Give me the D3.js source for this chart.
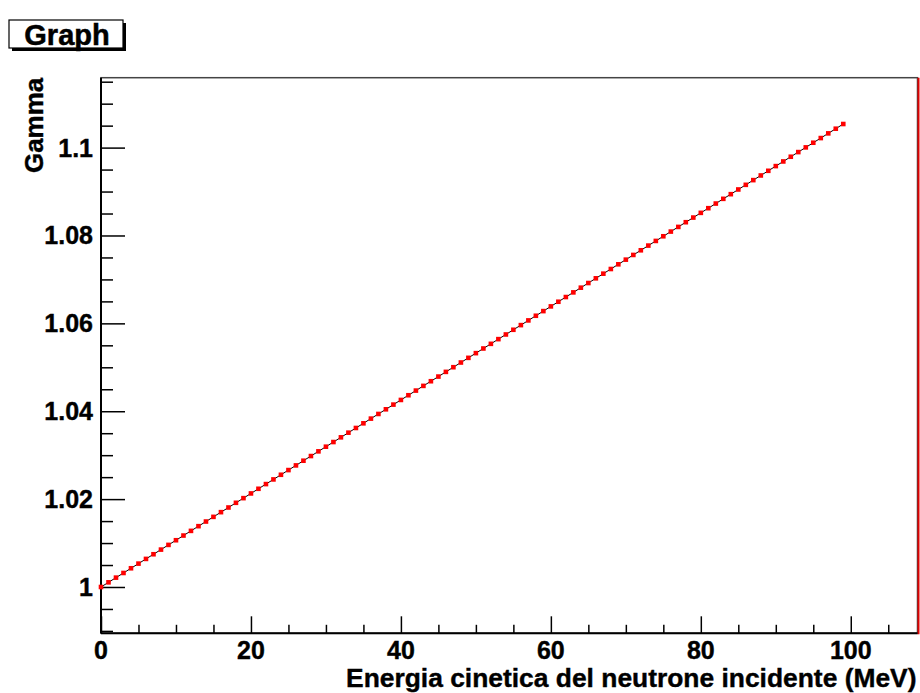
<!DOCTYPE html>
<html>
<head>
<meta charset="utf-8">
<script src="https://cdn.jsdelivr.net/npm/d3@7"></script>
<style>
  html, body { margin: 0; padding: 0; background: #fff; }
  svg { display: block; font-family: "Liberation Sans", Arial, Helvetica, sans-serif; font-weight: bold; }
</style>
</head>
<body>
<svg id="chart" width="920" height="693"></svg>
<script>
// Kinetic energy of the incident neutron (MeV)
const energies = [
  0, 1, 2, 3, 4, 5, 6, 7, 8, 9,
  10, 11, 12, 13, 14, 15, 16, 17, 18, 19,
  20, 21, 22, 23, 24, 25, 26, 27, 28, 29,
  30, 31, 32, 33, 34, 35, 36, 37, 38, 39,
  40, 41, 42, 43, 44, 45, 46, 47, 48, 49,
  50, 51, 52, 53, 54, 55, 56, 57, 58, 59,
  60, 61, 62, 63, 64, 65, 66, 67, 68, 69,
  70, 71, 72, 73, 74, 75, 76, 77, 78, 79,
  80, 81, 82, 83, 84, 85, 86, 87, 88, 89,
  90, 91, 92, 93, 94, 95, 96, 97, 98, 99
];

// Lorentz factor at each energy
const gammas = [
  1.00000, 1.00106, 1.00213, 1.00319, 1.00426, 1.00532, 1.00639, 1.00745, 1.00851, 1.00958,
  1.01064, 1.01171, 1.01277, 1.01384, 1.01490, 1.01596, 1.01703, 1.01809, 1.01916, 1.02022,
  1.02129, 1.02235, 1.02342, 1.02448, 1.02554, 1.02661, 1.02767, 1.02874, 1.02980, 1.03087,
  1.03193, 1.03299, 1.03406, 1.03512, 1.03619, 1.03725, 1.03832, 1.03938, 1.04044, 1.04151,
  1.04257, 1.04364, 1.04470, 1.04577, 1.04683, 1.04789, 1.04896, 1.05002, 1.05109, 1.05215,
  1.05322, 1.05428, 1.05534, 1.05641, 1.05747, 1.05854, 1.05960, 1.06067, 1.06173, 1.06279,
  1.06386, 1.06492, 1.06599, 1.06705, 1.06812, 1.06918, 1.07025, 1.07131, 1.07237, 1.07344,
  1.07450, 1.07557, 1.07663, 1.07770, 1.07876, 1.07982, 1.08089, 1.08195, 1.08302, 1.08408,
  1.08515, 1.08621, 1.08727, 1.08834, 1.08940, 1.09047, 1.09153, 1.09260, 1.09366, 1.09472,
  1.09579, 1.09685, 1.09792, 1.09898, 1.10005, 1.10111, 1.10217, 1.10324, 1.10430, 1.10537
];

const xTickValues = [0, 20, 40, 60, 80, 100];
const xTickLabels = ["0", "20", "40", "60", "80", "100"];
const xMinorTicks = [5, 10, 15, 25, 30, 35, 45, 50, 55, 65, 70, 75, 85, 90, 95, 105];

const yTickValues = [1, 1.02, 1.04, 1.06, 1.08, 1.1];
const yTickLabels = ["1", "1.02", "1.04", "1.06", "1.08", "1.1"];
const yMinorTicks = [0.99, 0.995, 1.005, 1.01, 1.015, 1.025, 1.03, 1.035, 1.045, 1.05, 1.055,
                     1.065, 1.07, 1.075, 1.085, 1.09, 1.095, 1.105, 1.11, 1.115];

const graphTitle = "Graph";
const xTitle = "Energia cinetica del neutrone incidente (MeV)";
const yTitle = "Gamma";

// Axis ranges with a 10% margin around the data, clipped at zero on x
const xMax = 108.9;
const yMin = 0.98946, yMax = 1.11591;

const svg = d3.select("#chart");
const frame = { left: 101, right: 917.5, top: 77.7, bottom: 633.3 };

const x = d3.scaleLinear().domain([0, xMax]).range([frame.left, frame.right]);
const y = d3.scaleLinear().domain([yMin, yMax]).range([frame.bottom, frame.top]);

// Frame
svg.append("rect")
  .attr("x", frame.left).attr("y", frame.top)
  .attr("width", frame.right - frame.left).attr("height", frame.bottom - frame.top)
  .attr("fill", "#fff").attr("stroke", "#444").attr("stroke-width", 1.5);

// Red edge on the right side of the pad
svg.append("line")
  .attr("x1", frame.right + 1).attr("x2", frame.right + 1)
  .attr("y1", frame.top).attr("y2", frame.bottom + 1)
  .attr("stroke", "#e00000").attr("stroke-width", 2);

// Bottom axis (ticks pointing into the frame)
const xAxisMajor = d3.axisTop(x).tickValues(xTickValues).tickSize(17).tickFormat("");
const xAxisMinor = d3.axisTop(x).tickValues(xMinorTicks).tickSize(8.5).tickFormat("");
[xAxisMajor, xAxisMinor].forEach(ax => {
  const g = svg.append("g").attr("transform", `translate(0,${frame.bottom})`).call(ax);
  g.select(".domain").remove();
  g.selectAll("line").attr("stroke", "#000").attr("stroke-width", 1.5);
});
svg.append("line")
  .attr("x1", frame.left).attr("x2", frame.right)
  .attr("y1", frame.bottom).attr("y2", frame.bottom)
  .attr("stroke", "#000").attr("stroke-width", 2);

svg.append("g").selectAll("text")
  .data(xTickValues)
  .join("text")
  .attr("x", d => x(d))
  .attr("y", 659)
  .attr("text-anchor", "middle")
  .attr("font-size", 25)
  .attr("fill", "#000")
  .attr("stroke", "#000").attr("stroke-width", 0.4)
  .text((d, i) => xTickLabels[i]);

// Left axis (ticks pointing into the frame)
const yAxisMajor = d3.axisRight(y).tickValues(yTickValues).tickSize(24).tickFormat("");
const yAxisMinor = d3.axisRight(y).tickValues(yMinorTicks).tickSize(12).tickFormat("");
[yAxisMajor, yAxisMinor].forEach(ax => {
  const g = svg.append("g").attr("transform", `translate(${frame.left},0)`).call(ax);
  g.select(".domain").remove();
  g.selectAll("line").attr("stroke", "#000").attr("stroke-width", 1.5);
});
svg.append("line")
  .attr("x1", frame.left).attr("x2", frame.left)
  .attr("y1", frame.top).attr("y2", frame.bottom)
  .attr("stroke", "#000").attr("stroke-width", 2);

svg.append("g").selectAll("text")
  .data(yTickValues)
  .join("text")
  .attr("x", 93)
  .attr("y", d => y(d))
  .attr("dy", "0.36em")
  .attr("text-anchor", "end")
  .attr("font-size", 25)
  .attr("fill", "#000")
  .attr("stroke", "#000").attr("stroke-width", 0.4)
  .text((d, i) => yTickLabels[i]);

// Axis titles
svg.append("text")
  .attr("x", frame.right - 1)
  .attr("y", 687)
  .attr("text-anchor", "end")
  .attr("font-size", 26.4)
  .attr("fill", "#000")
  .attr("stroke", "#000").attr("stroke-width", 0.4)
  .text(xTitle);

svg.append("text")
  .attr("transform", `translate(43,${frame.top}) rotate(-90)`)
  .attr("text-anchor", "end")
  .attr("font-size", 26)
  .attr("fill", "#000")
  .attr("stroke", "#000").attr("stroke-width", 0.4)
  .text(yTitle);

// Data: connecting polyline and square markers
const pts = energies.map((e, i) => [e, gammas[i]]);
svg.append("path")
  .datum(pts)
  .attr("fill", "none")
  .attr("stroke", "#000")
  .attr("stroke-width", 1)
  .attr("d", d3.line().x(d => x(d[0])).y(d => y(d[1])));

const ms = 4.6;
svg.append("g").selectAll("rect")
  .data(pts)
  .join("rect")
  .attr("x", d => x(d[0]) - ms / 2)
  .attr("y", d => y(d[1]) - ms / 2)
  .attr("width", ms).attr("height", ms)
  .attr("fill", "#ff0000");

// Title box with drop shadow
const tb = { x: 9, y: 20, w: 114, h: 28, sh: 3 };
svg.append("rect")
  .attr("x", tb.x + tb.sh).attr("y", tb.y + tb.sh)
  .attr("width", tb.w).attr("height", tb.h)
  .attr("fill", "#000");
svg.append("rect")
  .attr("x", tb.x).attr("y", tb.y)
  .attr("width", tb.w).attr("height", tb.h)
  .attr("fill", "#fff").attr("stroke", "#000").attr("stroke-width", 1.2);
svg.append("text")
  .attr("x", tb.x + tb.w / 2 + 1)
  .attr("y", tb.y + tb.h / 2 + 1)
  .attr("dy", "0.36em")
  .attr("text-anchor", "middle")
  .attr("font-size", 29)
  .attr("fill", "#000")
  .attr("stroke", "#000").attr("stroke-width", 0.5)
  .text(graphTitle);
</script>
</body>
</html>
